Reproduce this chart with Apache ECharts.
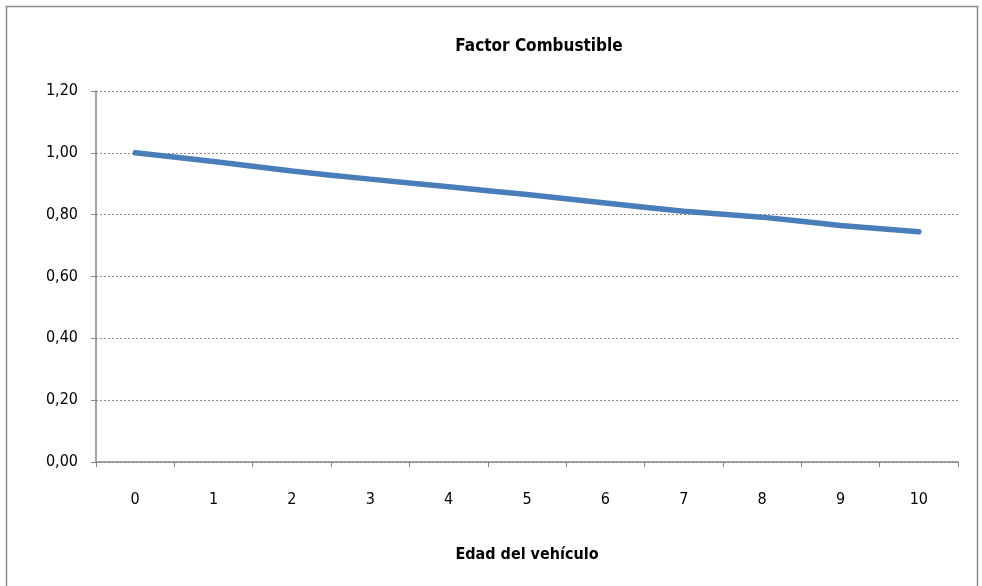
<!DOCTYPE html>
<html><head><meta charset="utf-8">
<script src="https://cdn.jsdelivr.net/npm/echarts@6/dist/echarts.min.js"></script>
<style>html,body{margin:0;padding:0;background:#fff}#c{width:982px;height:586px}</style>
</head><body><div id="c"></div>
<script>
const categories = ['0','1','2','3','4','5','6','7','8','9','10'];
const factorValues = [1.00, 0.972, 0.941, 0.915, 0.890, 0.865, 0.838, 0.811, 0.792, 0.765, 0.745];
const yTicks = [0, 0.2, 0.4, 0.6, 0.8, 1.0, 1.2];
const FONT = '"Liberation Sans Narrow", "DejaVu Sans Condensed", "Liberation Sans", sans-serif';
const chart = echarts.init(document.getElementById('c'));
chart.setOption({
  animation: false,
  backgroundColor: '#fff',
  graphic: [{type:'rect', shape:{x:6.5,y:6.5,width:971,height:600}, style:{fill:'none', stroke:'#8c8c8c', lineWidth:1.5}}],
  title: {text:'Factor Combustible', left:534, top:33, textAlign:'center',
    textStyle:{fontFamily:FONT, fontWeight:'bold', fontSize:17, color:'#000'}},
  grid: {left:96, right:24, top:91, bottom:124},
  xAxis: {type:'category', data:categories, boundaryGap:true,
    name:'Edad del vehículo', nameLocation:'middle', nameGap:85,
    nameTextStyle:{fontFamily:FONT, fontWeight:'bold', fontSize:16, color:'#000'},
    axisLine:{lineStyle:{color:'#868686', width:1.5}},
    axisTick:{show:true, length:5, lineStyle:{color:'#868686'}},
    axisLabel:{margin:30, fontFamily:FONT, fontSize:16, color:'#000'}},
  yAxis: {type:'value', min:yTicks[0], max:yTicks[yTicks.length-1], interval:0.2,
    axisLine:{show:true, lineStyle:{color:'#868686', width:1.5}},
    axisTick:{show:true, length:5, lineStyle:{color:'#868686'}},
    splitLine:{show:true, lineStyle:{color:'#8c8c8c', type:[2,2], width:1}},
    axisLabel:{margin:18, fontFamily:FONT, fontSize:16, color:'#000',
      formatter:v=>v.toFixed(2).replace('.', ',')}},
  series: [{type:'line', data:factorValues, smooth:0.2, symbol:'none',
    lineStyle:{color:'#4a7ebb', width:5.5, cap:'round'}}]
});
</script></body></html>
